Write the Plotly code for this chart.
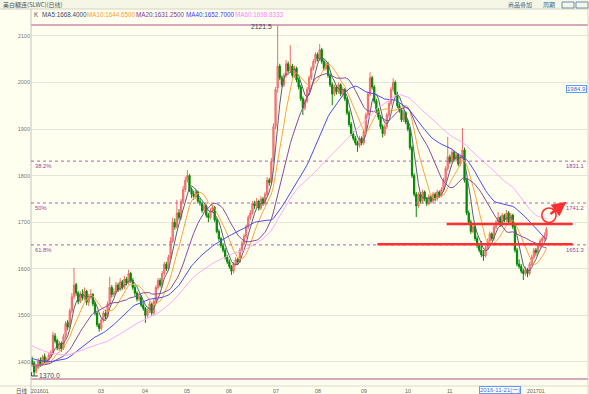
import plotly.graph_objects as go
import pandas as pd

# ---------------- data ----------------
opens = [1405,1398,1380,1388,1404,1395,1412,1398,1404,1414,1418,1456,1446,1428,1440,
         1430,1455,1485,1476,1510,1540,1566,1548,1530,1546,1536,1552,1528,1540,1545,1526,1505,1480,
         1472,1490,1505,1498,1525,1560,1545,1550,1565,1555,1572,1560,1578,1570,1590,1575,1560,1548,1535,1540,1522,1515,1500,1510,1525,1505,1530,1560,1575,1565,1590,1610,1600,
         1625,1660,1700,1690,1720,1710,1745,1770,1790,1800,1770,1760,1755,1765,1745,1740,1725,1735,1715,1710,1725,1732,1705,1680,1665,1650,1640,1625,1615,1605,1595,1610,1620,1615,1640,1655,1670,1690,1710,1720,1740,1735,1745,1730,1750,1740,1760,1790,1785,1832,1905,1988,
         2035,2010,1995,2015,2040,2025,2035,2015,2030,2005,1990,1965,1945,1960,1985,2010,2030,2045,2060,2050,2070,2045,2030,2040,2015,1995,1975,1990,1980,1995,1975,1985,1965,1935,1910,1890,1880,1870,1865,1880,1870,1895,1930,1975,2010,1990,1960,1940,1925,1905,1890,1905,1930,1955,1985,2000,1975,1950,1940,1920,1935,1915,
         1900,1860,1800,1760,1735,1760,1745,1765,1750,1740,1755,1745,1760,1750,1765,1758,1770,1790,1815,1840,1830,1850,1835,1845,1825,1840,1855,1790,1720,1700,1680,1690,1665,1650,1640,1630,1628,1645,1660,1675,1665,1690,1700,1710,1695,1715,1705,1720,1700,1715,1690,1640,1610,1605,1595,1590,1598,1590,1610,1625,1640,1635,1650,1660,1665,1670]
highs = [1412,1402,1395,1408,1410,1415,1418,1410,1420,1426,1465,1462,1450,1445,1444,
         1460,1488,1490,1515,1548,1602,1570,1552,1552,1556,1560,1555,1546,1556,1548,1530,1508,1484,
         1495,1510,1512,1530,1583,1565,1558,1572,1570,1580,1576,1585,1582,1598,1593,1580,1565,1552,1548,1544,1528,1518,1515,1530,1528,1535,1565,1580,1580,1595,1615,1615,1630,
         1668,1710,1708,1748,1728,1750,1778,1798,1812,1803,1775,1768,1772,1768,1752,1744,1742,1738,1720,1730,1738,1735,1708,1685,1668,1655,1645,1630,1620,1608,1615,1625,1624,1645,1660,1675,1695,1715,1726,1745,1746,1752,1748,1756,1754,1765,1797,1795,1838,1912,1990,2121.5,
         2040,2015,2020,2048,2045,2080,2040,2036,2034,2010,1995,1970,1965,1990,2015,2035,2050,2065,2064,2082,2074,2050,2046,2044,2020,2000,1995,1994,2000,1998,1990,1988,1968,1940,1915,1895,1885,1875,1885,1884,1900,1935,1980,2022,2014,1994,1965,1945,1930,1910,1910,1935,1960,1990,2009,2004,1980,1955,1945,1940,1938,1920,
         1904,1865,1805,1765,1765,1764,1770,1768,1754,1760,1758,1765,1764,1770,1768,1775,1795,1820,1883,1845,1856,1854,1850,1848,1845,1902,1860,1795,1725,1705,1695,1694,1670,1655,1660,1640,1650,1665,1680,1678,1695,1705,1722,1714,1720,1718,1726,1724,1720,1718,1694,1645,1620,1610,1600,1605,1602,1615,1630,1645,1645,1655,1665,1670,1678,1690]
lows = [1390,1370,1375,1385,1390,1392,1396,1394,1400,1408,1415,1440,1425,1424,1422,
        1426,1450,1468,1472,1505,1535,1542,1524,1526,1532,1532,1522,1520,1535,1520,1500,1475,1465,
        1468,1485,1492,1494,1520,1538,1540,1546,1550,1552,1555,1556,1564,1566,1570,1555,1542,1530,1530,1518,1510,1484,1495,1505,1500,1500,1525,1555,1560,1560,1585,1595,1596,
        1620,1655,1684,1686,1704,1705,1740,1765,1785,1765,1752,1748,1750,1740,1735,1720,1720,1710,1700,1706,1720,1700,1676,1660,1645,1635,1620,1610,1600,1587,1590,1605,1608,1612,1636,1650,1665,1685,1705,1716,1728,1730,1725,1726,1735,1736,1756,1778,1780,1828,1900,1978,
        2005,1990,1990,2010,2020,2020,2010,2010,2000,1985,1960,1930,1940,1955,1980,2005,2025,2040,2045,2046,2040,2025,2026,2010,1990,1951,1970,1974,1976,1970,1970,1960,1930,1905,1885,1875,1865,1851,1860,1865,1866,1890,1925,1970,1985,1955,1935,1920,1900,1882,1885,1900,1925,1950,1980,1970,1945,1935,1915,1915,1910,1895,
        1855,1795,1755,1711,1730,1740,1740,1745,1735,1736,1740,1740,1745,1746,1752,1754,1766,1786,1810,1825,1826,1830,1830,1820,1820,1835,1785,1715,1695,1675,1676,1660,1645,1635,1625,1617,1624,1640,1655,1660,1660,1685,1695,1690,1690,1700,1700,1695,1696,1685,1635,1605,1600,1590,1576,1585,1582,1586,1606,1620,1628,1630,1645,1652,1660,1665]
closes = [1395,1378,1390,1402,1395,1410,1400,1405,1415,1420,1458,1445,1430,1440,1428,
          1455,1482,1475,1510,1540,1565,1548,1530,1545,1538,1552,1528,1540,1545,1525,1505,1480,1472,
          1490,1505,1498,1525,1560,1545,1550,1565,1555,1572,1560,1578,1570,1590,1575,1560,1548,1535,1540,1522,1515,1500,1510,1525,1505,1530,1560,1575,1565,1590,1610,1600,1625,
          1660,1700,1690,1720,1710,1745,1770,1790,1800,1770,1760,1755,1765,1745,1740,1725,1735,1715,1710,1725,1732,1705,1680,1665,1650,1640,1625,1615,1605,1595,1610,1620,1615,1640,1655,1670,1690,1710,1720,1740,1735,1745,1730,1750,1740,1760,1790,1785,1830,1905,1985,2035,
          2010,1995,2015,2040,2025,2035,2015,2030,2005,1990,1965,1945,1960,1985,2010,2030,2045,2060,2050,2070,2045,2030,2040,2015,1995,1975,1990,1980,1995,1975,1985,1965,1935,1910,1890,1880,1870,1865,1880,1870,1895,1930,1975,2010,1990,1960,1940,1925,1905,1890,1905,1930,1955,1985,2000,1975,1950,1940,1920,1935,1915,1900,
          1860,1800,1760,1735,1760,1745,1765,1750,1740,1755,1745,1760,1750,1765,1758,1770,1790,1815,1840,1830,1850,1835,1845,1825,1840,1855,1790,1720,1700,1680,1690,1665,1650,1640,1630,1628,1645,1660,1675,1665,1690,1700,1710,1695,1715,1705,1720,1700,1715,1690,1640,1610,1605,1595,1590,1598,1590,1610,1625,1640,1635,1650,1660,1665,1670,1685]
# closes before the visible window (only used to warm up the moving averages)
pre_closes = [1522,1518,1525,1512,1505,1510,1498,1502,1495,1488,1492,1480,1485,1476,1470,1472,1465,1460,1455,1450,
              1445,1440,1442,1435,1430,1433,1425,1420,1424,1418,1415,1420,1412,1410,1414,1408,1405,1410,1402,1400,
              1405,1398,1402,1395,1392,1398,1390,1395,1388,1392,1398,1395,1390,1385,1392,1396,1400,1395,1398]

tick_idx = [4, 33, 54, 74, 94, 116, 136, 158, 179, 199, 240]
tick_text = ["201601", "03", "04", "05", "06", "07", "08", "09", "10", "11", "201701"]
y_ticks = [1400, 1500, 1600, 1700, 1800, 1900, 2000, 2100]

fib_levels = [1831.1, 1741.2, 1651.3]
fib_labels = ["38.2%", "50%", "61.8%"]

ma_periods = [5, 10, 20, 40, 60]
ma_colors = ["#5a6078", "#ffa33c", "#8a4aa0", "#4a4aff", "#ffa8ff"]
ma_text_colors = ["#3a4a68", "#ff9a2a", "#7a3a98", "#3a3aff", "#ff80ff"]
ma_values = ["1668.4000", "1644.6500", "1631.2500", "1652.7000", "1698.8333"]

high_idx, high_val = 117, 2121.5
low_idx, low_val = 1, 1370.0
cursor_price = 1984.9
cursor_date = "2016-11-21(一)"

support_levels = [1696.0, 1652.5]
support_start = [197.5, 164.5]
support_end = 257.5

# ---------------- geometry helpers ----------------
W, H = 589, 394
L, R, T, B = 31, 588, 25, 379
def px(x):
    return (x - L) / (R - L)
def py(y):
    return (B - y) / (B - T)

FONT = "Liberation Sans, Noto Sans CJK SC, sans-serif"
CJK = "Noto Sans CJK SC, sans-serif"

n = len(closes)
xs = list(range(n))

fig = go.Figure()
fig.add_trace(go.Candlestick(
    x=xs, open=opens, high=highs, low=lows, close=closes,
    increasing=dict(line=dict(color="#f26a6a", width=1), fillcolor="#ff8a8a"),
    decreasing=dict(line=dict(color="#008a00", width=1), fillcolor="#008a00"),
    whiskerwidth=0, showlegend=False, hoverinfo="skip"))

full = pd.Series(pre_closes + closes, dtype=float)
off = len(pre_closes)
for p, c in zip(ma_periods, ma_colors):
    ma = full.rolling(p).mean().iloc[off:].tolist()
    fig.add_trace(go.Scatter(x=xs, y=ma, mode="lines",
                             line=dict(color=c, width=1), showlegend=False, hoverinfo="skip"))

shapes = []
annotations = []

# header band
shapes.append(dict(type="rect", xref="paper", yref="paper", x0=px(0), x1=px(W), y0=py(9), y1=py(0),
                   fillcolor="#f6f6e6", line=dict(width=0), layer="below"))
shapes.append(dict(type="line", xref="paper", yref="paper", x0=px(0), x1=px(W), y0=py(9), y1=py(9),
                   line=dict(color="#d4d4c4", width=1)))
# frame lines
shapes.append(dict(type="line", xref="paper", yref="paper", x0=0, x1=1, y0=1, y1=1,
                   line=dict(color="#c889a8", width=1.5)))
shapes.append(dict(type="line", xref="paper", yref="paper", x0=0, x1=1, y0=0, y1=0,
                   line=dict(color="#c889a8", width=1.5)))
shapes.append(dict(type="line", xref="paper", yref="paper", x0=0, x1=0, y0=py(H), y1=py(9),
                   line=dict(color="#c4c4c4", width=1)))
shapes.append(dict(type="line", xref="paper", yref="paper", x0=1, x1=1, y0=py(H), y1=py(9),
                   line=dict(color="#d0d0d0", width=1)))
shapes.append(dict(type="line", xref="paper", yref="paper", x0=px(0), x1=px(W), y0=py(386), y1=py(386),
                   line=dict(color="#d8d8cc", width=1)))

# fibonacci levels
for lv, lab in zip(fib_levels, fib_labels):
    shapes.append(dict(type="line", xref="paper", yref="y", x0=0, x1=1, y0=lv, y1=lv,
                       line=dict(color="#b060b0", width=1, dash="dot")))
    annotations.append(dict(xref="paper", yref="y", x=px(33), y=lv, yshift=-5, text=lab,
                            showarrow=False, xanchor="left", yanchor="middle",
                            font=dict(family=FONT, size=5.8, color="#a040a0")))
    annotations.append(dict(xref="paper", yref="y", x=px(586), y=lv, yshift=-5, text=f"{lv:.1f}",
                            showarrow=False, xanchor="right", yanchor="middle",
                            font=dict(family=FONT, size=5.8, color="#a040a0")))

# drawn support / resistance lines
for lv, x0 in zip(support_levels, support_start):
    shapes.append(dict(type="line", xref="x", yref="y", x0=x0, x1=support_end, y0=lv, y1=lv,
                       line=dict(color="#ff3030", width=2.5)))
# circle and arrow
shapes.append(dict(type="circle", xref="x", yref="y", x0=246.2 - 3.4, x1=246.2 + 3.4,
                   y0=1715 - 15.5, y1=1715 + 15.5, line=dict(color="#ff3030", width=1.6)))
annotations.append(dict(xref="x", yref="y", x=254.5, y=1744, axref="x", ayref="y",
                        ax=246.2, ay=1715, showarrow=True, arrowhead=2, arrowsize=1.2,
                        arrowwidth=2.4, arrowcolor="#ff3030", text=""))

# high / low marks
annotations.append(dict(xref="x", yref="y", x=high_idx, y=high_val, xshift=-4, yshift=-1,
                        text=f"{high_val:.1f}", showarrow=False, xanchor="right", yanchor="middle",
                        font=dict(family=FONT, size=6.8, color="#404058")))
shapes.append(dict(type="line", xref="x", yref="y", x0=low_idx - 1.2, x1=low_idx - 1.2,
                   y0=low_val, y1=low_val + 8, line=dict(color="#404058", width=1)))
shapes.append(dict(type="line", xref="x", yref="y", x0=low_idx - 1.2, x1=low_idx + 1.8,
                   y0=low_val, y1=low_val, line=dict(color="#404058", width=1)))
annotations.append(dict(xref="x", yref="y", x=low_idx, y=low_val, xshift=3,
                        text=f"{low_val:.1f}", showarrow=False, xanchor="left", yanchor="middle",
                        font=dict(family=FONT, size=6.8, color="#34476a")))

# cursor price label
annotations.append(dict(xref="paper", yref="y", x=px(587), y=cursor_price, text=f"{cursor_price:.1f}",
                        showarrow=False, xanchor="right", yanchor="middle",
                        bgcolor="#ffffff", bordercolor="#5a9cff", borderwidth=1, borderpad=0,
                        font=dict(family=FONT, size=6, color="#3a70d0")))

# x labels (bottom row)
for ti, tt in zip(tick_idx, tick_text):
    annotations.append(dict(xref="x", yref="paper", x=ti, y=py(390.5), text=tt, showarrow=False,
                            xanchor="center", yanchor="middle",
                            font=dict(family=FONT, size=5.3, color="#606060")))
annotations.append(dict(xref="paper", yref="paper", x=px(22), y=py(390.5), text="日线", showarrow=False,
                        xanchor="center", yanchor="middle", font=dict(family=CJK, size=5.5, color="#505050")))
annotations.append(dict(xref="paper", yref="paper", x=px(500), y=py(390), text=cursor_date, showarrow=False,
                        xanchor="center", yanchor="middle", bgcolor="#ffffff", bordercolor="#5a9cff",
                        borderwidth=1, borderpad=0,
                        font=dict(family=FONT + ", " + CJK, size=6, color="#3a70d0")))

# header texts
annotations.append(dict(xref="paper", yref="paper", x=px(1), y=py(4.5), text="美白糖连(SLWC)(日线)",
                        showarrow=False, xanchor="left", yanchor="middle",
                        font=dict(family=CJK, size=6, color="#555555")))
annotations.append(dict(xref="paper", yref="paper", x=px(506), y=py(4.5), text="商品叠加",
                        showarrow=False, xanchor="left", yanchor="middle",
                        font=dict(family=CJK, size=6, color="#3a6a90")))
annotations.append(dict(xref="paper", yref="paper", x=px(541), y=py(4.5), text="周期",
                        showarrow=False, xanchor="left", yanchor="middle",
                        font=dict(family=CJK, size=6, color="#3a6a90")))
for bx0, bx1 in [(562, 574), (576, 588)]:
    shapes.append(dict(type="rect", xref="paper", yref="paper", x0=px(bx0), x1=px(bx1),
                       y0=py(8), y1=py(2), line=dict(color="#6a90b0", width=1), fillcolor="#f6f6e6"))
annotations.append(dict(xref="paper", yref="paper", x=px(32), y=py(15), text="K",
                        showarrow=False, xanchor="left", yanchor="middle",
                        font=dict(family=FONT, size=6.3, color="#555555")))
ma_x = [40, 85, 134, 184, 233]
for p, col, val, xx in zip(ma_periods, ma_text_colors, ma_values, ma_x):
    annotations.append(dict(xref="paper", yref="paper", x=px(xx), y=py(15), text=f"MA{p}:{val}",
                            showarrow=False, xanchor="left", yanchor="middle",
                            font=dict(family=FONT, size=6.3, color=col)))

fig.update_layout(
    width=W, height=H,
    margin=dict(l=L, r=W - R, t=T, b=H - B, pad=0, autoexpand=False),
    paper_bgcolor="#fffff0", plot_bgcolor="#fffff0",
    showlegend=False,
    boxgap=0.15,
    shapes=shapes, annotations=annotations,
    xaxis=dict(range=[-0.48, 264.8], showgrid=False, zeroline=False, showticklabels=False,
               showline=False, rangeslider=dict(visible=False), fixedrange=True, automargin=False),
    yaxis=dict(range=[1363.5, 2123.2], tickvals=y_ticks, ticktext=[str(v) for v in y_ticks],
               showgrid=True, gridcolor="#e6e6d8", gridwidth=1, zeroline=False, showline=False,
               ticks="", tickfont=dict(family=FONT, size=5.5, color="#7a7a7a"), fixedrange=True,
               automargin=False),
)

fig.write_html("out.html", config={"displayModeBar": False},
               post_script="document.body.style.margin='0';document.body.style.padding='0';"
                           "document.documentElement.style.background='#fffff0';")
